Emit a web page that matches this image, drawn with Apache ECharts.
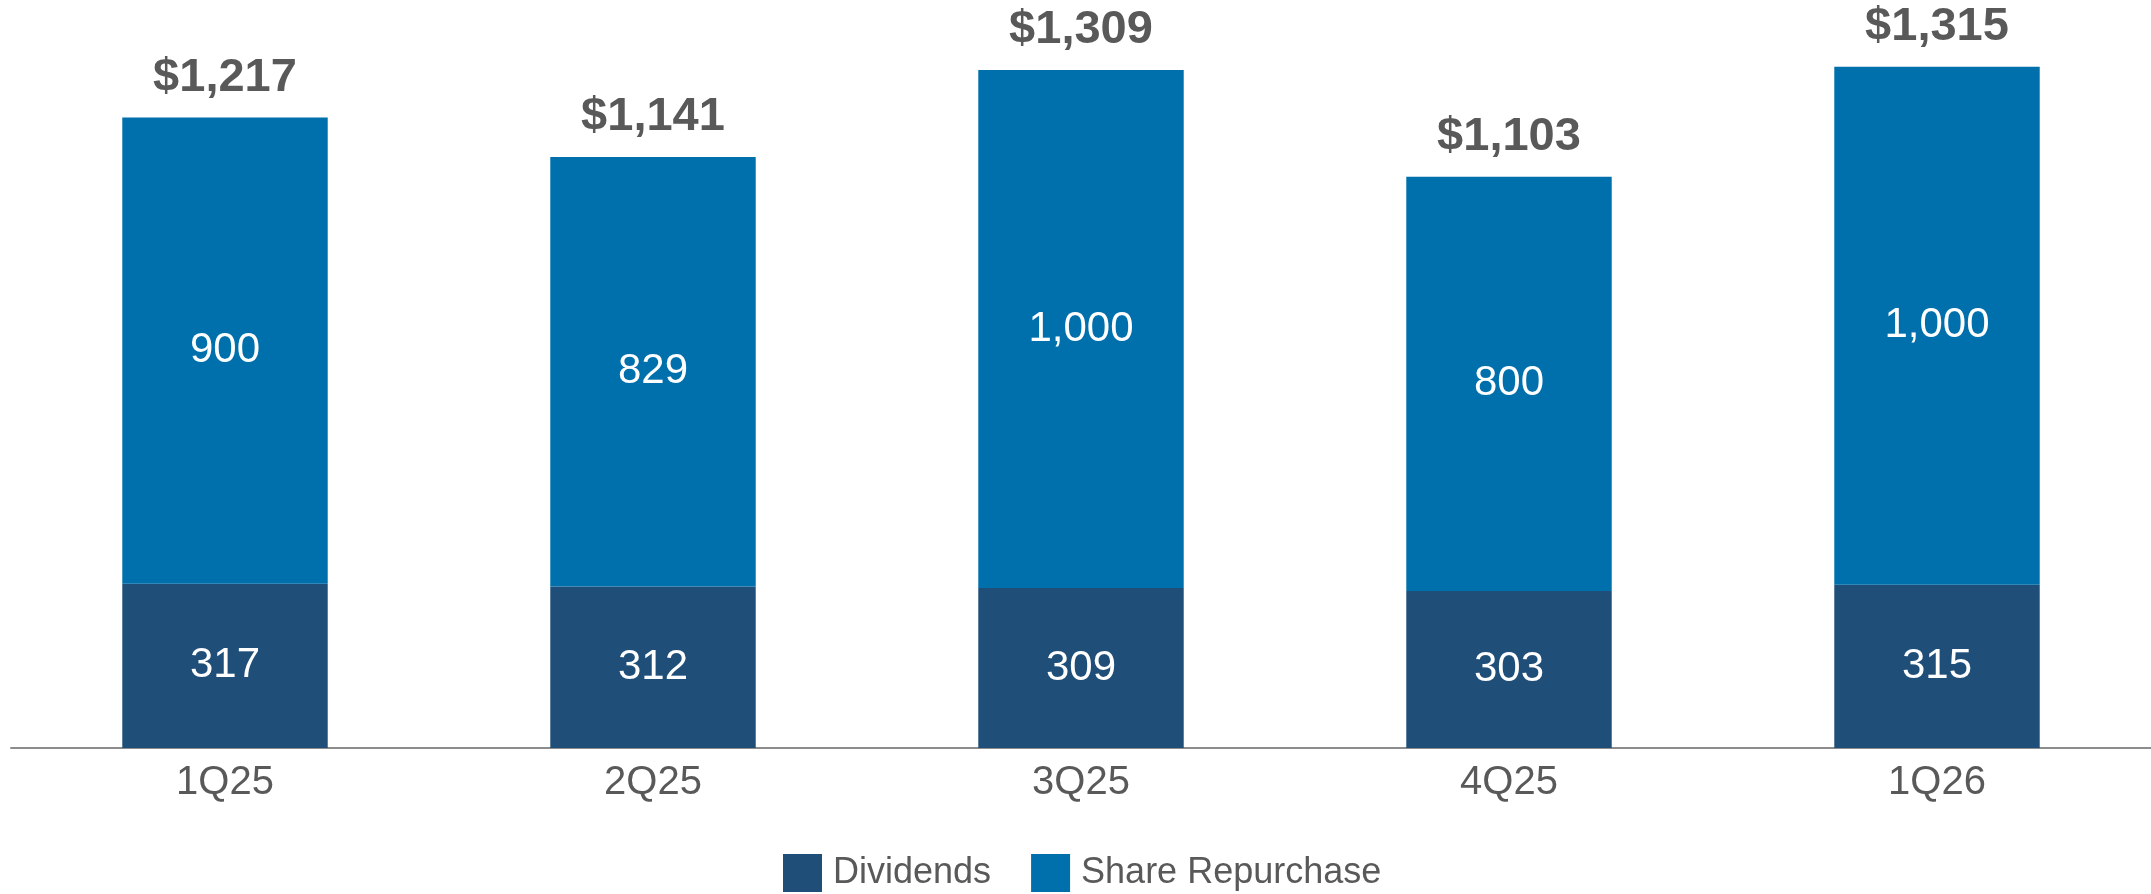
<!DOCTYPE html>
<html>
<head>
<meta charset="utf-8">
<script src="https://cdn.jsdelivr.net/npm/echarts@6/dist/echarts.min.js"></script>
<style>
  html, body { margin: 0; padding: 0; background: #fff; }
  #chart { width: 2151px; height: 894px; }
</style>
</head>
<body>
<div id="chart"></div>
<script>
const quarters = ['1Q25', '2Q25', '3Q25', '4Q25', '1Q26']
const dividends = [317, 312, 309, 303, 315]
const repurchases = [900, 829, 1000, 800, 1000]
const totals = [1217, 1141, 1309, 1103, 1315]

const font = '"Liberation Sans", Arial, sans-serif'
const grey = '#595959'

const chart = echarts.init(document.getElementById('chart'), null, { renderer: 'canvas' })

chart.setOption({
  animation: false,
  textStyle: { fontFamily: font },
  grid: { left: 11, right: -4, top: 0, bottom: 146, containLabel: false },
  legend: {
    data: ['Dividends', 'Share Repurchase'],
    left: 778,
    top: 849,
    itemWidth: 39,
    itemHeight: 38,
    itemGap: 40,
    icon: 'rect',
    textStyle: { fontSize: 36, color: grey, fontFamily: font, padding: [0, 0, 0, 6] }
  },
  xAxis: {
    type: 'category',
    data: quarters,
    axisLine: { lineStyle: { color: '#8c8c8c', width: 2 } },
    axisTick: { show: false },
    axisLabel: { fontSize: 40, color: grey, margin: 15, fontFamily: font }
  },
  yAxis: {
    type: 'value',
    min: 0,
    max: 1444,
    show: false,
    splitLine: { show: false }
  },
  series: [
    {
      name: 'Dividends',
      type: 'bar',
      stack: 'total',
      barWidth: '48%',
      data: dividends,
      itemStyle: { color: '#1f4e79' },
      label: {
        show: true,
        position: 'inside',
        color: '#fff',
        fontSize: 42,
        fontFamily: font
      }
    },
    {
      name: 'Share Repurchase',
      type: 'bar',
      stack: 'total',
      data: repurchases,
      itemStyle: { color: '#0070ad' },
      label: {
        show: true,
        position: 'inside',
        color: '#fff',
        fontSize: 42,
        fontFamily: font,
        formatter: p => p.value.toLocaleString('en-US')
      }
    },
    {
      name: 'Total',
      type: 'bar',
      stack: 'total',
      data: totals.map(() => 0),
      itemStyle: { color: 'transparent' },
      label: {
        show: true,
        position: 'top',
        distance: 16,
        color: grey,
        fontSize: 47,
        fontWeight: 'bold',
        fontFamily: font,
        formatter: p => '$' + totals[p.dataIndex].toLocaleString('en-US')
      }
    }
  ]
})
</script>
</body>
</html>
